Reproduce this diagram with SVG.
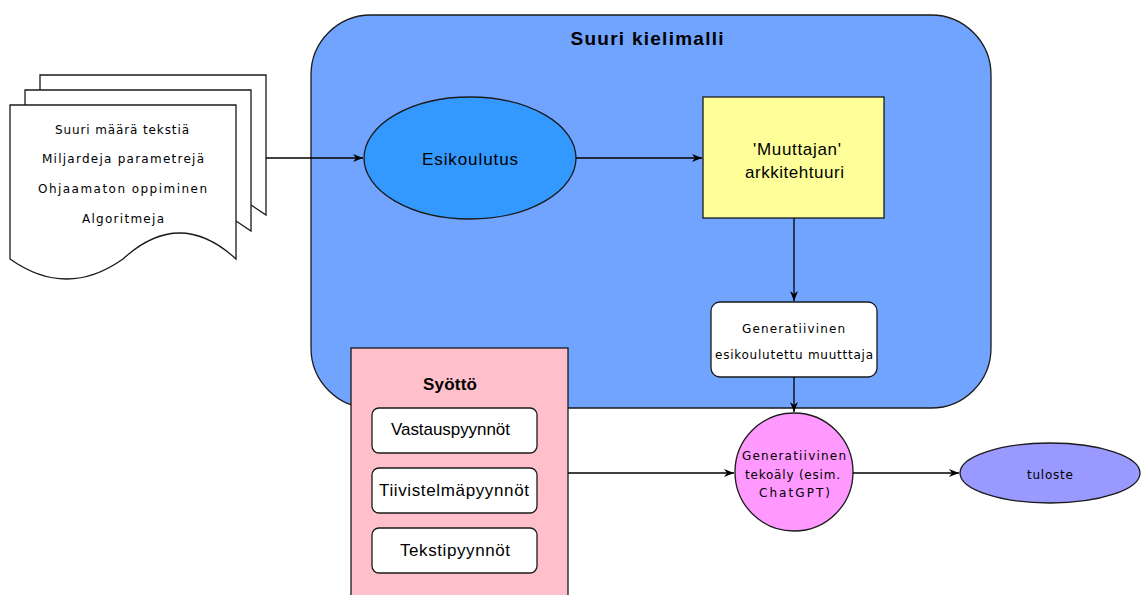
<svg xmlns="http://www.w3.org/2000/svg" width="1142" height="595" viewBox="0 0 1142 595">
  <defs>
    <marker id="arrow" viewBox="0 0 10 8" refX="10" refY="4" markerWidth="10" markerHeight="8" markerUnits="userSpaceOnUse" orient="auto">
      <path d="M0,0 L10,4 L0,8 L3,4 z" fill="#000"/>
    </marker>
    <style>
      .line { fill: none; stroke: #000; stroke-width: 1.3; }
      .shape { stroke: #1a1a1a; stroke-width: 1.3; }
      .sans { font-family: "Liberation Sans", Arial, sans-serif; fill: #000; text-anchor: middle; }
      .small { font-family: "DejaVu Sans", Verdana, sans-serif; font-size: 12px; fill: #000; text-anchor: middle; }
      .mid { font-size: 17px; }
      .bold { font-weight: bold; }
    </style>
  </defs>

  <!-- Large language model container -->
  <g id="llm">
    <rect class="shape" x="311" y="15" width="680" height="393" rx="60" ry="60" fill="#70a4ff"/>
    <text class="sans bold" x="647" y="45" font-size="19" textLength="153" lengthAdjust="spacing">Suuri kielimalli</text>
  </g>

  <!-- Stacked documents -->
  <g id="documents">
    <path class="shape" d="M40,90 V75 H266 V215 L251,205" fill="#fff"/>
    <path class="shape" d="M25,105 V90 H251 V231 L236,221" fill="#fff"/>
    <path class="shape" d="M10,105 H236 V259 Q179.5,207 123,259 Q66.5,299 10,259 Z" fill="#fff"/>
    <text class="small" x="122" y="134" textLength="134" lengthAdjust="spacing">Suuri määrä tekstiä</text>
    <text class="small" x="123" y="163" textLength="162" lengthAdjust="spacing">Miljardeja parametrejä</text>
    <text class="small" x="122.5" y="193" textLength="169" lengthAdjust="spacing">Ohjaamaton oppiminen</text>
    <text class="small" x="123" y="223" textLength="82" lengthAdjust="spacing">Algoritmeja</text>
  </g>

  <!-- Pretraining -->
  <g id="pretraining">
    <ellipse class="shape" cx="470" cy="158" rx="106" ry="61" fill="#3399ff"/>
    <text class="sans mid" x="470" y="165" textLength="96" lengthAdjust="spacing">Esikoulutus</text>
  </g>

  <!-- Transformer architecture -->
  <g id="transformer">
    <rect class="shape" x="703" y="97" width="181" height="121" fill="#ffff99"/>
    <text class="sans mid" x="797" y="155" textLength="88" lengthAdjust="spacing">'Muuttajan'</text>
    <text class="sans mid" x="794.5" y="178" textLength="99" lengthAdjust="spacing">arkkitehtuuri</text>
  </g>

  <!-- Generative pretrained transformer -->
  <g id="gpt">
    <rect class="shape" x="711" y="302" width="166" height="75" rx="9" ry="9" fill="#fff"/>
    <text class="small" x="793.5" y="333" textLength="103" lengthAdjust="spacing">Generatiivinen</text>
    <text class="small" x="794" y="359" textLength="158" lengthAdjust="spacing">esikoulutettu muutttaja</text>
  </g>

  <!-- Input prompts -->
  <g id="input">
    <rect class="shape" x="351" y="348" width="217" height="260" fill="#ffc0cb"/>
    <text class="sans bold" x="450" y="390" font-size="17" textLength="54" lengthAdjust="spacing">Syöttö</text>
    <g id="prompt-answer">
      <rect class="shape" x="372" y="408" width="165" height="45" rx="7" ry="7" fill="#fff"/>
      <text class="sans mid" x="450.5" y="435" textLength="119" lengthAdjust="spacing">Vastauspyynnöt</text>
    </g>
    <g id="prompt-summary">
      <rect class="shape" x="372" y="468" width="165" height="45" rx="7" ry="7" fill="#fff"/>
      <text class="sans mid" x="454" y="496" textLength="150" lengthAdjust="spacing">Tiivistelmäpyynnöt</text>
    </g>
    <g id="prompt-text">
      <rect class="shape" x="372" y="528" width="165" height="45" rx="7" ry="7" fill="#fff"/>
      <text class="sans mid" x="455" y="556" textLength="110" lengthAdjust="spacing">Tekstipyynnöt</text>
    </g>
  </g>

  <!-- Generative AI -->
  <g id="genai">
    <circle class="shape" cx="794" cy="472" r="59" fill="#ff99ff"/>
    <text class="small" x="794" y="460" textLength="104" lengthAdjust="spacing">Generatiivinen</text>
    <text class="small" x="792.5" y="479" textLength="95" lengthAdjust="spacing">tekoäly (esim.</text>
    <text class="small" x="794.5" y="497" textLength="71" lengthAdjust="spacing">ChatGPT)</text>
  </g>

  <!-- Output -->
  <g id="output">
    <ellipse class="shape" cx="1050" cy="473" rx="90" ry="30" fill="#9999ff"/>
    <text class="small" x="1050" y="479" textLength="46" lengthAdjust="spacing">tuloste</text>
  </g>

  <!-- Connectors -->
  <g id="connectors">
    <line class="line" x1="266" y1="158" x2="363" y2="158" marker-end="url(#arrow)"/>
    <line class="line" x1="576" y1="158" x2="702" y2="158" marker-end="url(#arrow)"/>
    <line class="line" x1="794" y1="218" x2="794" y2="301" marker-end="url(#arrow)"/>
    <line class="line" x1="794" y1="377" x2="794" y2="412" marker-end="url(#arrow)"/>
    <line class="line" x1="568" y1="473" x2="734" y2="473" stroke="#444" marker-end="url(#arrow)"/>
    <line class="line" x1="853" y1="473" x2="959" y2="473" marker-end="url(#arrow)"/>
  </g>
</svg>
